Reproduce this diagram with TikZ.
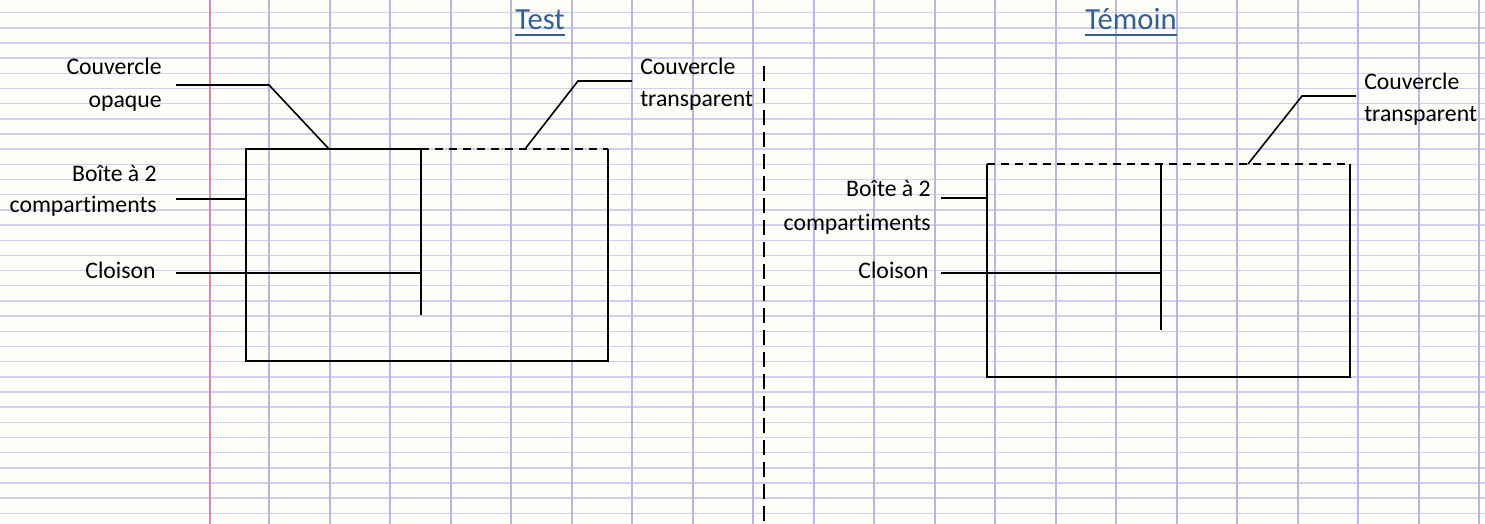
\documentclass[tikz,border=0pt]{standalone}
\usepackage{fontspec}
\setmainfont[Ligatures={NoCommon}]{Carlito}
\definecolor{paper}{RGB}{254,254,251}
\definecolor{hlinec}{RGB}{208,208,238}
\definecolor{vlinec}{RGB}{184,182,226}
\definecolor{marginc}{RGB}{226,130,175}
\definecolor{titlec}{RGB}{54,95,145}
\begin{document}
\begin{tikzpicture}[x=0.75pt,y=-0.75pt,
  hrule/.style={draw=hlinec, line width=1.1pt},
  vrule/.style={draw=vlinec, line width=1.5pt},
  mrule/.style={draw=marginc, line width=1.5pt},
  wall/.style={draw=black, line width=1.4pt, line join=miter},
  lid/.style={draw=black, line width=1.4pt, dash pattern=on 6pt off 4.5pt},
  leader/.style={draw=black, line width=1.2pt},
  sep/.style={draw=black, line width=1.5pt, dash pattern=on 11.5pt off 5pt},
  lbl/.style={font=\fontsize{17.8}{22}\selectfont, inner sep=0pt},
  ttl/.style={font=\fontsize{23}{28}\selectfont, text=titlec, inner sep=0pt},
  uline/.style={draw=titlec, line width=1.4pt}]
\useasboundingbox (0,0) rectangle (1485,524);
\fill[paper] (0,0) rectangle (1485,524);
% notebook ruling
\foreach \k in {0,...,33} \draw[hrule] (0,{12.7+15.17*\k}) -- (1485,{12.7+15.17*\k});
\foreach \k in {0,...,20} \draw[vrule] ({269+60.5*\k},0) -- ({269+60.5*\k},524);
\draw[mrule] (210,0) -- (210,524);

% titles
\node[ttl, anchor=base] (tst) at (540,30) {Test};
\draw[uline] ([yshift=-4pt]tst.base west) -- ([yshift=-4pt]tst.base east);
\node[ttl, anchor=base] (tem) at (1131,30) {Témoin};
\draw[uline] ([yshift=-4pt]tem.base west) -- ([yshift=-4pt]tem.base east);

% separator
\coordinate (sepT) at (764,66);
\coordinate (sepB) at (764,524);
\draw[sep] (sepT) -- (sepB);

% ---------- Test box ----------
\coordinate (A) at (246,149);
\coordinate (B) at (608,149);
\coordinate (C) at (608,361);
\coordinate (D) at (246,361);
\coordinate (P1) at (421,149);
\coordinate (P2) at (421,315);
\draw[wall] (P1) -- (A) -- (D) -- (C) -- (B);
\draw[lid] (P1) -- (B);
\draw[wall] (P1) -- (P2);

\node[lbl, anchor=base east] (opq1) at (162,75) {Couvercle};
\node[lbl, anchor=base east] (opq2) at (162,108) {opaque};
\node[lbl, anchor=base east] (bxL1) at (157,181) {Boîte à 2};
\node[lbl, anchor=base east] (bxL2) at (157,213) {compartiments};
\node[lbl, anchor=base east] (clL) at (156,278) {Cloison};
\node[lbl, anchor=base west] (trL1) at (640,75) {Couvercle};
\node[lbl, anchor=base west] (trL2) at (640,107) {transparent};

\coordinate (opqS) at (176,85);
\coordinate (opqK) at (269,85);
\coordinate (opqE) at (329,149);
\draw[leader] (opqS) -- (opqK) -- (opqE);
\coordinate (trLS) at (632,81);
\coordinate (trLK) at (578,81);
\coordinate (trLE) at (525,149);
\draw[leader] (trLS) -- (trLK) -- (trLE);
\coordinate (bxLS) at (176,199);
\coordinate (bxLE) at (246,199);
\draw[leader] (bxLS) -- (bxLE);
\coordinate (clLS) at (176,273);
\coordinate (clLE) at (421,273);
\draw[leader] (clLS) -- (clLE);

% ---------- Témoin box ----------
\coordinate (E) at (987,164);
\coordinate (F) at (1350,164);
\coordinate (G) at (1350,377);
\coordinate (H) at (987,377);
\coordinate (Q1) at (1161,164);
\coordinate (Q2) at (1161,330);
\draw[lid] (E) -- (F);
\draw[wall] (E) -- (H) -- (G) -- (F);
\draw[wall] (Q1) -- (Q2);

\node[lbl, anchor=base east] (bxR1) at (931,197) {Boîte à 2};
\node[lbl, anchor=base east] (bxR2) at (931,230) {compartiments};
\node[lbl, anchor=base east] (clR) at (929,278) {Cloison};
\node[lbl, anchor=base west] (trR1) at (1364,90) {Couvercle};
\node[lbl, anchor=base west] (trR2) at (1364,122) {transparent};

\coordinate (trRS) at (1356,96);
\coordinate (trRK) at (1302,96);
\coordinate (trRE) at (1248,164);
\draw[leader] (trRS) -- (trRK) -- (trRE);
\coordinate (bxRS) at (941,198);
\coordinate (bxRE) at (987,198);
\draw[leader] (bxRS) -- (bxRE);
\coordinate (clRS) at (941,273);
\coordinate (clRE) at (1161,273);
\draw[leader] (clRS) -- (clRE);
\end{tikzpicture}
\end{document}
